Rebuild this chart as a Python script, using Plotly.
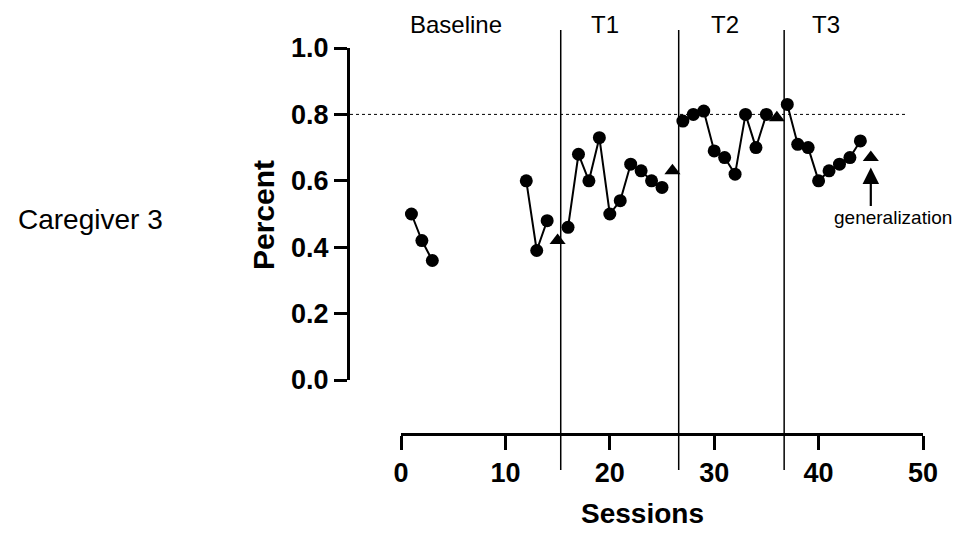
import plotly.graph_objects as go

# Data
sessions = [1, 2, 3, None, 12, 13, 14, None,
            16, 17, 18, 19, 20, 21, 22, 23, 24, 25, None,
            27, 28, 29, 30, 31, 32, 33, 34, 35, None,
            37, 38, 39, 40, 41, 42, 43, 44]
percent = [0.50, 0.42, 0.36, None, 0.60, 0.39, 0.48, None,
           0.46, 0.68, 0.60, 0.73, 0.50, 0.54, 0.65, 0.63, 0.60, 0.58, None,
           0.78, 0.80, 0.81, 0.69, 0.67, 0.62, 0.80, 0.70, 0.80, None,
           0.83, 0.71, 0.70, 0.60, 0.63, 0.65, 0.67, 0.72]
probe_sessions = [15, 26, 36, 45]
probe_percent = [0.42, 0.63, 0.79, 0.67]
phase_changes = [15.3, 26.6, 36.7]
phase_labels = ["Baseline", "T1", "T2", "T3"]
phase_label_x = [5.3, 19.5, 31.0, 40.7]
criterion = 0.8
x_ticks = [0, 10, 20, 30, 40, 50]
y_ticks = [0.0, 0.2, 0.4, 0.6, 0.8, 1.0]

W, H = 961, 536
FONT = "Liberation Sans, Arial, sans-serif"

fig = go.Figure()
fig.add_trace(go.Scatter(
    x=sessions, y=percent, mode="lines+markers",
    line=dict(color="black", width=2),
    marker=dict(symbol="circle", size=13, color="black"),
    connectgaps=False, cliponaxis=False, showlegend=False))
fig.add_trace(go.Scatter(
    x=probe_sessions, y=probe_percent, mode="markers",
    marker=dict(symbol="triangle-up", size=14, color="black"),
    cliponaxis=False, showlegend=False))

shapes = []
for xc in phase_changes:
    shapes.append(dict(type="line", xref="x", yref="paper", x0=xc, x1=xc,
                       y0=(H - 470) / H, y1=(H - 30) / H,
                       line=dict(color="black", width=1.5)))
shapes.append(dict(type="line", xref="paper", yref="y",
                   x0=350 / W, x1=905 / W, y0=criterion, y1=criterion,
                   line=dict(color="black", width=1, dash="dot")))

annotations = []
for lab, lx in zip(phase_labels, phase_label_x):
    annotations.append(dict(text=lab, x=lx, y=(H - 24) / H, xref="x", yref="paper",
                            showarrow=False, font=dict(family=FONT, size=24, color="black"),
                            xanchor="center", yanchor="middle"))
annotations.append(dict(text="Caregiver 3", x=90 / W, y=(H - 220) / H, xref="paper", yref="paper",
                        showarrow=False, font=dict(family=FONT, size=28, color="black"),
                        xanchor="center", yanchor="middle"))
annotations.append(dict(text="Percent", x=263 / W, y=(H - 215) / H, xref="paper", yref="paper",
                        showarrow=False, textangle=-90,
                        font=dict(family=FONT, size=30, color="black", weight="bold"),
                        xanchor="center", yanchor="middle"))
annotations.append(dict(text="Sessions", x=642 / W, y=(H - 513) / H, xref="paper", yref="paper",
                        showarrow=False,
                        font=dict(family=FONT, size=28, color="black", weight="bold"),
                        xanchor="center", yanchor="middle"))
annotations.append(dict(text="generalization", x=893 / W, y=(H - 217) / H, xref="paper", yref="paper",
                        showarrow=False, font=dict(family=FONT, size=19, color="black"),
                        xanchor="center", yanchor="middle"))
annotations.append(dict(text="", x=45, y=0.64, xref="x", yref="y", showarrow=True,
                        ax=0, ay=40, arrowhead=2, arrowsize=1.5, arrowwidth=2.2,
                        arrowcolor="black"))

fig.update_layout(
    width=W, height=H,
    margin=dict(l=0, r=0, t=0, b=0, autoexpand=False),
    paper_bgcolor="white", plot_bgcolor="white",
    shapes=shapes, annotations=annotations,
    xaxis=dict(domain=[401 / W, 923 / W], range=[0, 50], anchor="free",
               position=(H - 434) / H, automargin=False,
               tickvals=x_ticks, ticks="outside", ticklen=14, tickwidth=3,
               tickcolor="black", showline=True, linecolor="black", linewidth=3,
               showgrid=False, zeroline=False,
               tickfont=dict(family=FONT, size=27, color="black", weight="bold")),
    yaxis=dict(domain=[(H - 380) / H, (H - 48) / H], range=[0, 1], anchor="free",
               position=348 / W, automargin=False,
               tickvals=y_ticks, tickformat=".1f", ticks="outside", ticklen=13, tickwidth=3,
               tickcolor="black", showline=True, linecolor="black", linewidth=3,
               showgrid=False, zeroline=False,
               tickfont=dict(family=FONT, size=27, color="black", weight="bold")),
)

fig.write_html("out.html")
